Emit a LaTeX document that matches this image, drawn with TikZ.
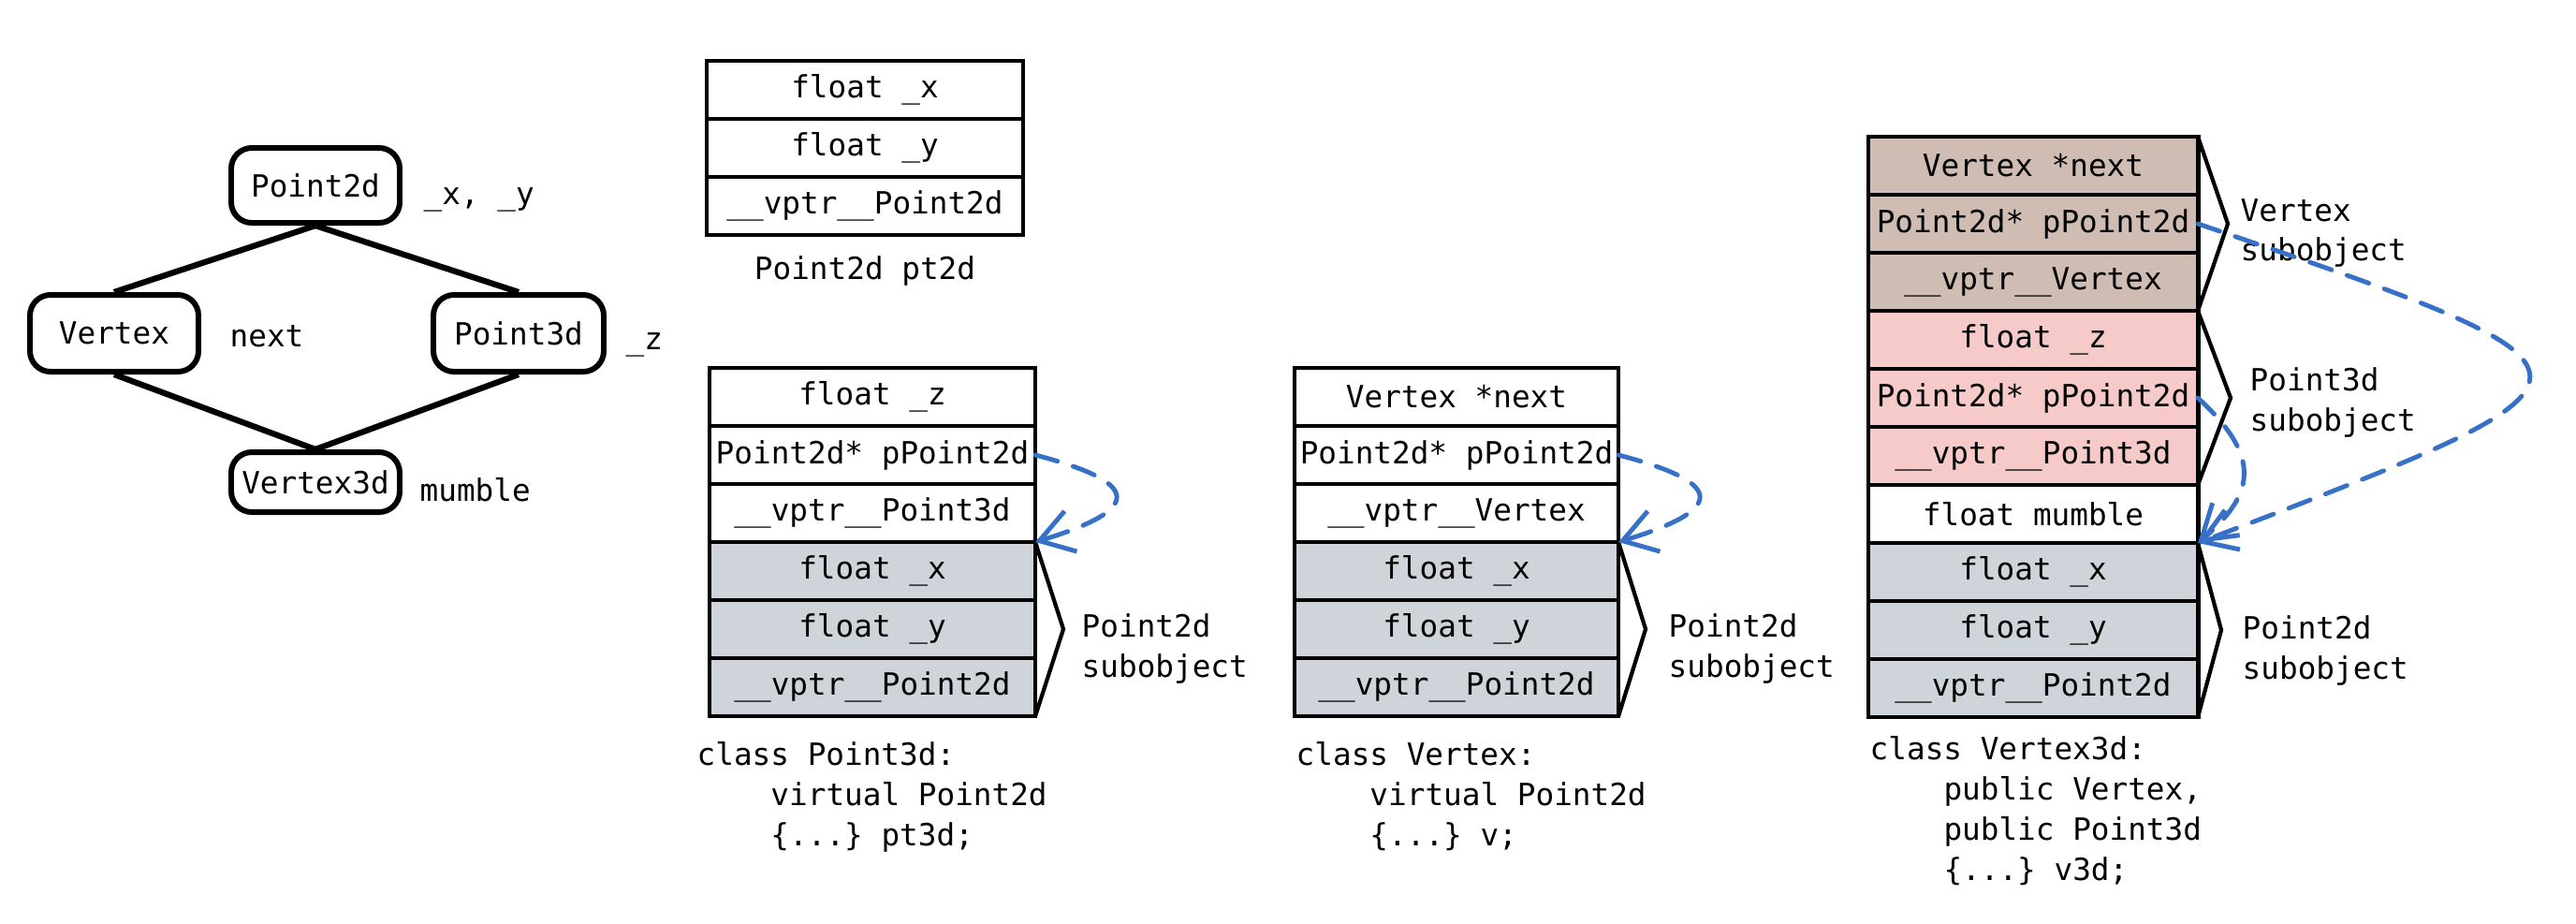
\documentclass[tikz,border=0pt]{standalone}
\usepackage{fontspec}
\newfontfamily\monofont{DejaVu Sans Mono}
\usepackage{tikz}
\usetikzlibrary{arrows.meta,positioning}
\definecolor{basegray}{RGB}{206,212,217}
\definecolor{vtxbrown}{RGB}{207,189,180}
\definecolor{ptpink}{RGB}{247,202,202}
\definecolor{ptrblue}{RGB}{55,112,199}
\newcommand\code{\monofont\fontsize{9.3}{12.2}\selectfont\frenchspacing}
\newcommand\ind{\hspace*{2.41em}}
\tikzset{>={Straight Barb[length=3.5mm,width=4.5mm]},
  cls node/.style={draw,rounded corners=0.22cm,line width=1.7pt,minimum width=1.8cm,minimum height=0.8cm,inner sep=0pt,font=\code},
  link/.style={line width=1.8pt},
  slot/.style={draw,line width=1.4pt,minimum width=#1,minimum height=0.62cm,inner sep=0pt,outer sep=0pt,font=\code},
  slot/.default=3.48cm,
  note/.style={inner sep=0pt,align=left,font=\code},
  brace/.style={line width=1.2pt,line join=miter},
  ptr/.style={->,ptrblue,line width=1.4pt,line cap=round,dash pattern=on 7pt off 5pt}}

\begin{document}
\begin{tikzpicture}
    \path[use as bounding box,fill=white] (0,0) rectangle (27.52,-9.86);

    % class graph
    \node[cls node, on grid] (pt2) at (3.37,-1.98) {Point2d};
    \node[cls node, on grid, minimum height=0.82cm] (vtx) [below left = 1.58cm and 2.15cm of pt2] {Vertex};
    \node[cls node, on grid, minimum width=1.82cm, minimum height=0.82cm] (pt3) [below right = 1.58cm and 2.17cm of pt2] {Point3d};
    \node[cls node, on grid, minimum height=0.64cm] (vx3) [below = 3.17cm of pt2] {Vertex3d};
    \path[link] (pt2.south) edge (vtx.north);
    \path[link] (pt2.south) edge (pt3.north);
    \path[link] (vtx.south) edge (vx3.north);
    \path[link] (pt3.south) edge (vx3.north);
    \node[note, anchor=base west] (xy) at (4.52,-2.18) {\_x, \_y};
    \node[note, anchor=base west] (nxt) at (2.45,-3.70) {next};
    \node[note, anchor=base west] (zz) at (6.68,-3.73) {\_z};
    \node[note, anchor=base west] (mbl) at (4.48,-5.35) {mumble};

    % Point2d pt2d
    \node[slot=3.38cm] (a1) at (9.24,-0.96) {float \_x};
    \node[slot=3.38cm] (a2) [below=0pt of a1] {float \_y};
    \node[slot=3.38cm] (a3) [below=0pt of a2] {\_\_vptr\_\_Point2d};
    \node[note] (cap0) [below=0.22cm of a3] {Point2d pt2d};

    % Point3d pt3d
    \node[slot] (b1) at (9.32,-4.24) {float \_z};
    \node[slot] (b2) [below=0pt of b1] {Point2d* pPoint2d};
    \node[slot] (b3) [below=0pt of b2] {\_\_vptr\_\_Point3d};
    \node[slot, fill=basegray] (b4) [below=0pt of b3] {float \_x};
    \node[slot, fill=basegray] (b5) [below=0pt of b4] {float \_y};
    \node[slot, fill=basegray] (b6) [below=0pt of b5] {\_\_vptr\_\_Point2d};
    \draw[brace] (b4.north east) -- ([xshift=0.3cm]b5.east) -- (b6.south east);
    \node[note, anchor=west] (sub1) at ([xshift=0.49cm,yshift=-0.21cm]b5.east) {Point2d\\subobject};
    \node[note, anchor=north west] (cap1) at (7.44,-7.92) {class Point3d:\\\ind virtual Point2d\\\ind\{...\} pt3d;};
    \draw[ptr] (b2.east) .. controls +(1.15,-0.3) and +(1.15,0.35) .. (b3.south east);

    % Vertex v
    \node[slot=3.46cm] (v1) at (15.56,-4.24) {Vertex *next};
    \node[slot=3.46cm] (v2) [below=0pt of v1] {Point2d* pPoint2d};
    \node[slot=3.46cm] (v3) [below=0pt of v2] {\_\_vptr\_\_Vertex};
    \node[slot=3.46cm, fill=basegray] (v4) [below=0pt of v3] {float \_x};
    \node[slot=3.46cm, fill=basegray] (v5) [below=0pt of v4] {float \_y};
    \node[slot=3.46cm, fill=basegray] (v6) [below=0pt of v5] {\_\_vptr\_\_Point2d};
    \draw[brace] (v4.north east) -- ([xshift=0.29cm]v5.east) -- (v6.south east);
    \node[note, anchor=west] (sub2) at ([xshift=0.53cm,yshift=-0.21cm]v5.east) {Point2d\\subobject};
    \node[note, anchor=north west] (cap2) at (13.84,-7.92) {class Vertex:\\\ind virtual Point2d\\\ind\{...\} v;};
    \draw[ptr] (v2.east) .. controls +(1.15,-0.3) and +(1.15,0.35) .. (v3.south east);

    % Vertex3d v3d
    \node[slot=3.52cm, fill=vtxbrown] (c1) at (21.72,-1.77) {Vertex *next};
    \node[slot=3.52cm, fill=vtxbrown] (c2) [below=0pt of c1] {Point2d* pPoint2d};
    \node[slot=3.52cm, fill=vtxbrown] (c3) [below=0pt of c2] {\_\_vptr\_\_Vertex};
    \node[slot=3.52cm, fill=ptpink] (c4) [below=0pt of c3] {float \_z};
    \node[slot=3.52cm, fill=ptpink] (c5) [below=0pt of c4] {Point2d* pPoint2d};
    \node[slot=3.52cm, fill=ptpink] (c6) [below=0pt of c5] {\_\_vptr\_\_Point3d};
    \node[slot=3.52cm] (c7) [below=0pt of c6] {float mumble};
    \node[slot=3.52cm, fill=basegray] (c8) [below=0pt of c7] {float \_x};
    \node[slot=3.52cm, fill=basegray] (c9) [below=0pt of c8] {float \_y};
    \node[slot=3.52cm, fill=basegray] (c10) [below=0pt of c9] {\_\_vptr\_\_Point2d};
    \draw[brace] (c1.north east) -- ([xshift=0.32cm]c2.east) -- (c3.south east);
    \draw[brace] (c4.north east) -- ([xshift=0.35cm]c5.east) -- (c6.south east);
    \draw[brace] (c8.north east) -- ([xshift=0.25cm]c9.east) -- (c10.south east);
    \node[note, anchor=west] (sub3) at ([xshift=0.45cm,yshift=-0.1cm]c2.east) {Vertex\\subobject};
    \node[note, anchor=west] (sub4) at ([xshift=0.55cm,yshift=-0.05cm]c5.east) {Point3d\\subobject};
    \node[note, anchor=west] (sub5) at ([xshift=0.47cm,yshift=-0.22cm]c9.east) {Point2d\\subobject};
    \node[note, anchor=north west] (cap3) at (19.97,-7.86) {class Vertex3d:\\\ind public Vertex,\\\ind public Point3d\\\ind\{...\} v3d;};
    \draw[ptr] (c2.east) .. controls +(4.72,-1.61) and +(4.72,1.8) .. (c7.south east);
    \draw[ptr] (c5.east) .. controls +(0.65,-0.6) and +(0.65,0.55) .. (c7.south east);
\end{tikzpicture}
\end{document}
